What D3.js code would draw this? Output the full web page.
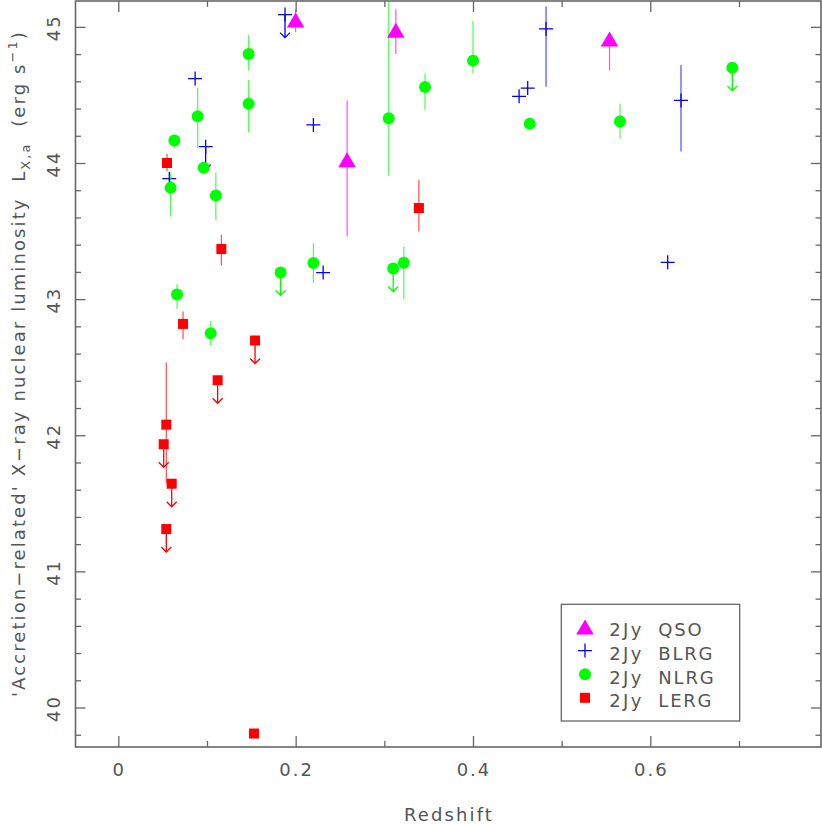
<!DOCTYPE html>
<html><head><meta charset="utf-8">
<script src="https://cdn.jsdelivr.net/npm/d3@7"></script>
<style>
body{margin:0;background:#fff}
svg{display:block}
text{font-family:"DejaVu Sans",sans-serif;fill:#555;white-space:pre}
</style>
</head><body>
<svg id="c" width="822" height="824"></svg>
<script>
// ---------------- DATA ----------------
// QSO
const qsoZ  = [0.200, 0.313, 0.258, 0.554];
const qsoL  = [45.05, 44.976, 44.024, 44.91];
const qsoLo = [44.96, 44.80, 43.46, 44.68];
const qsoHi = [45.13, 45.13, 44.46, 44.91];
const qsoLim = [0, 0, 0, 0];
// BLRG
const blrgZ  = [0.188, 0.0866, 0.0985, 0.0575, 0.220, 0.231, 0.4824, 0.452, 0.4617, 0.6346, 0.6196];
const blrgL  = [45.09, 44.62, 44.12, 43.885, 44.28, 43.195, 44.985, 44.49, 44.55, 44.46, 43.27];
const blrgLo = [null, null, null, null, null, null, 44.56, null, null, 44.085, null];
const blrgHi = [null, null, null, null, null, null, 45.15, null, null, 44.72, null];
const blrgLim = [1, 0, 1, 0, 0, 0, 0, 0, 0, 0, 0];
// NLRG
const nlrgZ  = [0.147, 0.147, 0.0895, 0.0632, 0.0963, 0.059, 0.110, 0.305, 0.0662, 0.1042, 0.183, 0.220, 0.310, 0.322, 0.3459, 0.400, 0.464, 0.5658, 0.6925];
const nlrgL  = [44.80, 44.436, 44.343, 44.166, 43.965, 43.818, 43.762, 44.328, 43.034, 42.75, 43.196, 43.265, 43.225, 43.267, 44.559, 44.752, 44.289, 44.304, 44.699];
const nlrgLo = [44.68, 44.225, 44.11, 44.11, null, 43.607, 43.58, 43.906, 42.93, 42.66, null, 43.12, null, 43.0, 44.392, 44.66, null, 44.18, null];
const nlrgHi = [44.94, 44.61, 44.55, 44.21, null, 43.93, 43.93, 45.3, 43.11, 42.84, null, 43.41, null, 43.387, 44.657, 45.044, null, 44.436, null];
const nlrgLim = [0, 0, 0, 0, 0, 0, 0, 0, 0, 0, 1, 0, 1, 0, 0, 0, 0, 0, 1];
// LERG
const lergZ  = [0.0549, 0.1162, 0.073, 0.1542, 0.112, 0.339, 0.0541, 0.0512, 0.0602, 0.0541, 0.153];
const lergL  = [44.0, 43.368, 42.818, 42.696, 42.404, 43.669, 42.078, 41.934, 41.644, 41.311, 39.809];
const lergLo = [43.94, 43.247, 42.706, null, null, 43.497, 41.647, null, null, null, null];
const lergHi = [44.066, 43.473, 42.909, null, null, 43.877, 42.534, null, null, null, null];
const lergLim = [0, 0, 0, 1, 1, 0, 0, 1, 1, 1, 0];

// ticks / labels
const xMajor = [0, 0.2, 0.4, 0.6];
const xMinor = [0.1, 0.3, 0.5, 0.7];
const xLabels = ["0", "0.2", "0.4", "0.6"];
const yMajor = [40, 41, 42, 43, 44, 45];
const yMinor = [39.8, 40.2, 40.4, 40.6, 40.8, 41.2, 41.4, 41.6, 41.8, 42.2, 42.4, 42.6, 42.8,
                43.2, 43.4, 43.6, 43.8, 44.2, 44.4, 44.6, 44.8];
const yLabels = ["40", "41", "42", "43", "44", "45"];
const legendPrefix = "2Jy";
const legendNames = ["QSO", "BLRG", "NLRG", "LERG"];

// ---------------- CHART ----------------
const W = 822, H = 824;
const L = 75.5, R = 821, T = 1, B = 747;
const x = d3.scaleLinear().domain([-0.0483, 0.7925]).range([L, R]);
const y = d3.scaleLinear().domain([39.71, 45.19]).range([B, T]);
const axisColor = "#666";

const svg = d3.select("#c");
svg.append("rect").attr("width", W).attr("height", H).attr("fill", "#fff");
svg.append("clipPath").attr("id", "clip").append("rect")
  .attr("x", L).attr("y", T).attr("width", R - L).attr("height", B - T);

function drawAxis(gen, tr) {
  const g = svg.append("g").attr("transform", tr).call(gen);
  g.select(".domain").remove();
  g.selectAll("text").remove();
  g.selectAll("line").attr("stroke", axisColor).attr("stroke-width", 1.3);
}
drawAxis(d3.axisBottom(x).tickValues(xMajor).tickSize(-11), `translate(0,${B})`);
drawAxis(d3.axisBottom(x).tickValues(xMinor).tickSize(-6), `translate(0,${B})`);
drawAxis(d3.axisTop(x).tickValues(xMajor).tickSize(-11), `translate(0,${T})`);
drawAxis(d3.axisTop(x).tickValues(xMinor).tickSize(-6), `translate(0,${T})`);
drawAxis(d3.axisLeft(y).tickValues(yMajor).tickSize(-10), `translate(${L},0)`);
drawAxis(d3.axisLeft(y).tickValues(yMinor).tickSize(-5.5), `translate(${L},0)`);
drawAxis(d3.axisRight(y).tickValues(yMajor).tickSize(-10), `translate(${R},0)`);
drawAxis(d3.axisRight(y).tickValues(yMinor).tickSize(-5.5), `translate(${R},0)`);

svg.append("rect").attr("x", L).attr("y", T).attr("width", R - L).attr("height", B - T)
  .attr("fill", "none").attr("stroke", axisColor).attr("stroke-width", 1.6);

// tick labels
svg.append("g").selectAll("text").data(xMajor).join("text")
  .attr("x", d => x(d) + 1).attr("y", 776)
  .attr("text-anchor", "middle").attr("font-size", 18).attr("letter-spacing", 2)
  .text((d, i) => xLabels[i]);
svg.append("g").selectAll("text").data(yMajor).join("text")
  .attr("transform", d => `translate(60,${y(d) + 1}) rotate(-90)`)
  .attr("text-anchor", "middle").attr("font-size", 18).attr("letter-spacing", 2)
  .text((d, i) => yLabels[i]);

// axis titles
function fitText(sel, target) {
  const w0 = sel.node().getComputedTextLength();
  const n = sel.text().length;
  const ls = (target - w0) / n;
  sel.attr("letter-spacing", ls);
}
const xt = svg.append("text").attr("x", 449).attr("y", 821)
  .attr("text-anchor", "middle").attr("font-size", 18).text("Redshift");
fitText(xt, 90);

const yt = svg.append("text").attr("transform", "translate(25,363.5) rotate(-90)")
  .attr("text-anchor", "middle").attr("font-size", 18);
yt.append("tspan").text("'Accretion\u2212related' X\u2212ray nuclear luminosity  L");
yt.append("tspan").attr("font-size", 13).attr("dy", 5).text("X,a");
yt.append("tspan").attr("dy", -5).text("  (erg s");
yt.append("tspan").attr("font-size", 13).attr("dy", -8).text("\u22121");
yt.append("tspan").attr("dy", 8).text(")");
{
  const w0 = yt.node().getComputedTextLength();
  const n = yt.text().length;
  yt.attr("letter-spacing", (667 - w0) / n);
}

// ---------------- MARKS ----------------
const plot = svg.append("g").attr("clip-path", "url(#clip)");

function series(Z, Lv, Lo, Hi, Lim, color, shape) {
  const idx = d3.range(Z.length);
  const g = plot.append("g");
  // error bars
  g.selectAll("line.err").data(idx.filter(i => Lo[i] != null)).join("line")
    .attr("x1", i => x(Z[i])).attr("x2", i => x(Z[i]))
    .attr("y1", i => y(Lo[i])).attr("y2", i => y(Hi[i]))
    .attr("stroke", color).attr("stroke-width", 1.2).attr("stroke-opacity", 0.7);
  // upper-limit arrows
  const lim = idx.filter(i => Lim[i]);
  g.selectAll("path.lim").data(lim).join("path")
    .attr("d", i => {
      const cx = x(Z[i]), cy = y(Lv[i]), tip = cy + 23;
      return `M${cx},${cy}V${tip}M${cx - 5},${tip - 5}L${cx},${tip}L${cx + 5},${tip - 5}`;
    })
    .attr("fill", "none").attr("stroke", color).attr("stroke-width", 1.3);
  // markers
  g.selectAll("g.m").data(idx).join("g")
    .attr("transform", i => `translate(${x(Z[i])},${y(Lv[i])})`)
    .each(function () { drawShape(d3.select(this), shape, color); });
}
function drawShape(s, shape, color) {
  if (shape === "circle") s.append("circle").attr("r", 6).attr("fill", color);
  else if (shape === "square") s.append("rect").attr("x", -5).attr("y", -5).attr("width", 10).attr("height", 10).attr("fill", color);
  else if (shape === "plus") s.append("path").attr("d", "M-7,0H7M0,-7V7").attr("stroke", color).attr("stroke-width", 1.3).attr("fill", "none");
  else if (shape === "triangle") s.append("path").attr("d", "M0,-7.5L8.8,7.5L-8.8,7.5Z").attr("fill", color);
}

series(lergZ, lergL, lergLo, lergHi, lergLim, "#ff0000", "square");
series(blrgZ, blrgL, blrgLo, blrgHi, blrgLim, "#0000ff", "plus");
series(nlrgZ, nlrgL, nlrgLo, nlrgHi, nlrgLim, "#00ff00", "circle");
series(qsoZ, qsoL, qsoLo, qsoHi, qsoLim, "#ff00ff", "triangle");

// ---------------- LEGEND ----------------
const leg = svg.append("g");
leg.append("rect").attr("x", 561.3).attr("y", 604.3).attr("width", 178.4).attr("height", 116.7)
  .attr("fill", "#fff").attr("stroke", axisColor).attr("stroke-width", 1.3);
const legColors = ["#ff00ff", "#0000ff", "#00ff00", "#ff0000"];
const legShapes = ["triangle", "plus", "circle", "square"];
legendNames.forEach((nm, i) => {
  const ry = 627 + i * 23.6;
  const sg = leg.append("g").attr("transform", `translate(585,${ry})`);
  drawShape(sg, legShapes[i], legColors[i]);
  leg.append("text").attr("x", 609.3).attr("y", ry + 9.3).attr("font-size", 18).attr("letter-spacing", 2.3).text(legendPrefix);
  leg.append("text").attr("x", 658.3).attr("y", ry + 9.3).attr("font-size", 18).attr("letter-spacing", 1.8).text(nm);
});
</script>
</body></html>
